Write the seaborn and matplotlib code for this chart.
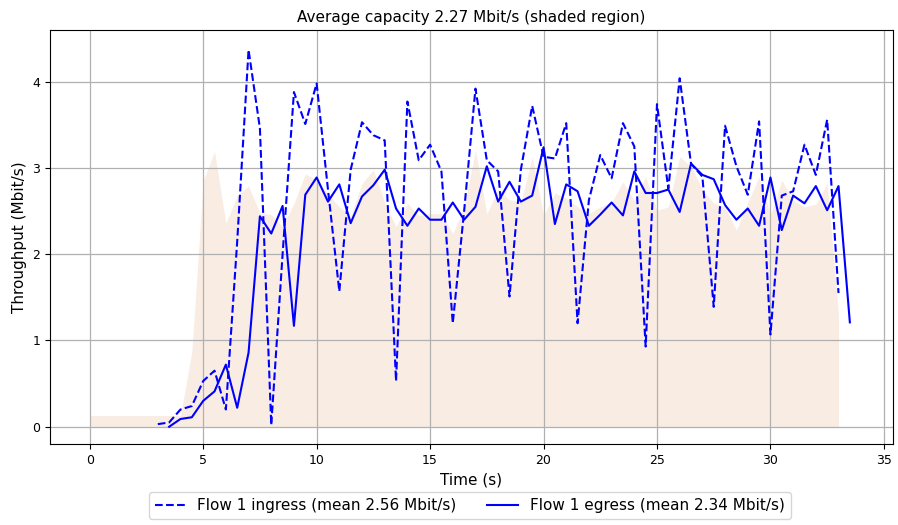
import numpy as np
import pandas as pd
import matplotlib
matplotlib.use("Agg")
import matplotlib.pyplot as plt
import seaborn as sns

# Sampling interval of the throughput traces (seconds)
STEP = 0.5

# Link capacity trace, starting at t = 0 s
capacity = [
    0.13, 0.13, 0.13, 0.13, 0.13, 0.13, 0.13, 0.13, 0.13,
    0.87, 2.85, 3.19, 2.36, 2.68, 2.79, 2.48, 2.46, 2.32, 2.59,
    2.93, 2.86, 2.70, 2.55, 2.44, 2.82, 2.98, 2.60, 2.32, 2.59,
    2.45, 2.47, 2.47, 2.24, 2.55, 3.21, 2.47, 2.75, 2.63, 2.60,
    3.13, 2.45, 2.71, 2.65, 2.55, 2.47, 2.55, 2.60, 2.84, 2.62,
    2.90, 2.51, 2.55, 3.13, 3.02, 2.75, 2.59, 2.55, 2.28, 2.60,
    2.90, 2.45, 2.86, 2.62, 2.55, 2.58, 2.82, 1.30,
]

# Flow 1 ingress throughput, starting at t = 3.0 s
ingress_start = 3.0
ingress = [
    0.03, 0.05, 0.20, 0.24, 0.53, 0.65, 0.20, 2.15, 4.37, 3.46,
    0.02, 2.00, 3.88, 3.51, 3.98, 2.75, 1.57, 2.98, 3.53, 3.38,
    3.32, 0.53, 3.77, 3.09, 3.27, 2.96, 1.20, 2.50, 3.92, 3.09,
    2.96, 1.51, 2.98, 3.72, 3.13, 3.11, 3.52, 1.20, 2.63, 3.15,
    2.88, 3.52, 3.25, 0.93, 3.74, 2.76, 4.04, 3.05, 2.90, 1.39,
    3.49, 3.02, 2.69, 3.54, 1.07, 2.68, 2.73, 3.27, 2.92, 3.56,
    1.55,
]

# Flow 1 egress throughput, starting at t = 3.5 s
egress_start = 3.5
egress = [
    0.00, 0.09, 0.11, 0.30, 0.41, 0.72, 0.22, 0.86, 2.44, 2.24,
    2.56, 1.17, 2.69, 2.89, 2.61, 2.81, 2.36, 2.67, 2.80, 2.98,
    2.53, 2.33, 2.53, 2.40, 2.40, 2.60, 2.40, 2.55, 3.02, 2.61,
    2.84, 2.61, 2.68, 3.24, 2.35, 2.81, 2.73, 2.33, 2.46, 2.60,
    2.45, 2.96, 2.71, 2.71, 2.75, 2.49, 3.05, 2.92, 2.87, 2.57,
    2.40, 2.53, 2.33, 2.89, 2.28, 2.68, 2.59, 2.79, 2.51, 2.79,
    1.21,
]

title = "Average capacity 2.27 Mbit/s (shaded region)"
ingress_label = "Flow 1 ingress (mean 2.56 Mbit/s)"
egress_label = "Flow 1 egress (mean 2.34 Mbit/s)"

cap_df = pd.DataFrame({"t": np.arange(len(capacity)) * STEP, "v": capacity})
in_df = pd.DataFrame({"t": ingress_start + np.arange(len(ingress)) * STEP, "v": ingress})
eg_df = pd.DataFrame({"t": egress_start + np.arange(len(egress)) * STEP, "v": egress})

fig = plt.figure(figsize=(8.98, 5.25), dpi=100)
ax = fig.add_axes([0.0557, 0.1543, 0.9387, 0.7886])

ax.fill_between(cap_df["t"], 0, cap_df["v"], color="#f9ede3", linewidth=0)

sns.lineplot(data=in_df, x="t", y="v", ax=ax, color="blue", linestyle="--",
             linewidth=1.5, label=ingress_label)
sns.lineplot(data=eg_df, x="t", y="v", ax=ax, color="blue", linestyle="-",
             linewidth=1.5, label=egress_label)

ax.set_xlim(-1.75, 35.4)
ax.set_ylim(-0.2, 4.6)
ax.set_xticks(np.arange(0, 36, 5))
ax.set_yticks(np.arange(0, 5, 1))
ax.grid(True, color="#b0b0b0", linewidth=0.9)
ax.set_axisbelow("line")
ax.tick_params(labelsize=9)

ax.set_title(title, fontsize=11)
ax.set_xlabel("Time (s)", fontsize=11)
ax.set_ylabel("Throughput (Mbit/s)", fontsize=11)

ax.legend(loc="upper center", bbox_to_anchor=(0.498, -0.098), ncol=2,
          fontsize=11, frameon=True, handlelength=2.0, columnspacing=2.0)

fig.savefig("out.png", dpi=100)
